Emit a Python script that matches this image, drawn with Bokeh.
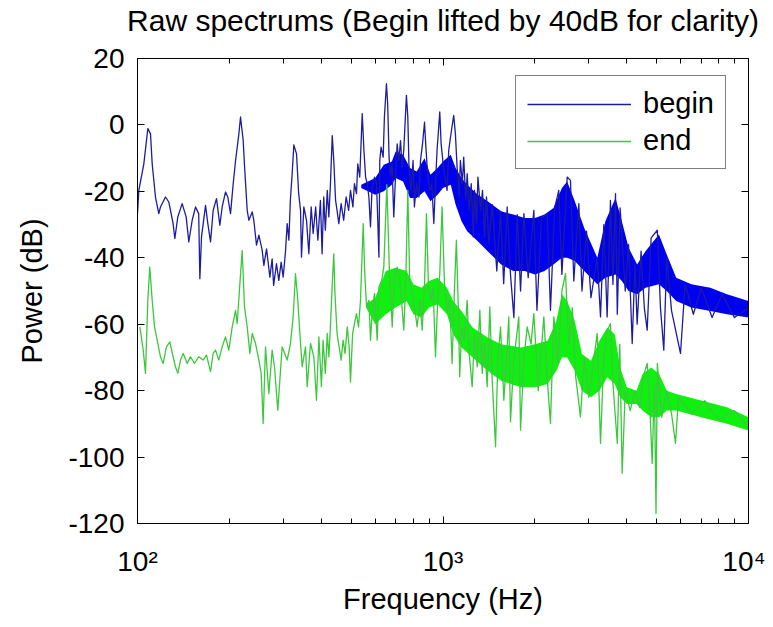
from bokeh.plotting import figure
from bokeh.models import Range1d, LogAxis, LinearAxis, FixedTicker, Legend, LegendItem
from bokeh.embed import file_html
from bokeh.resources import INLINE

# ---------------- data ----------------
begin_freq = [100, 101, 104.9, 108.1, 110.3, 111.7, 114.5, 117.4, 118.9, 123.5, 126.6, 130.8, 132.5,
              135.5, 140, 144.3, 147.2, 151, 154.9, 158.6, 160, 162, 167, 169.9, 173.4, 176.9, 181.4,
              186, 189.3, 194.1, 197.5, 201.6, 205.7, 209.4, 214.7, 217.4, 219.5, 221.8, 224, 228.6,
              231.5, 237.4, 240.3, 245.2, 249.6, 255.9, 259.2, 264.5, 271.2, 275.9, 279, 285.1, 290.1,
              295.3, 299.8, 305, 309, 313, 316.5, 320.8, 324.9, 331.5, 337, 341.7, 344.2, 350.3, 357.5,
              363.8, 370.3, 375.8, 383, 389.4, 397, 402, 407, 412, 418, 423, 428, 434, 439, 445, 450,
              456, 464, 473, 482, 491, 498, 507, 513, 521, 526, 534, 544, 551, 558, 565, 572, 579, 586,
              597, 606, 617, 621, 627, 637, 643, 653, 659, 666, 673, 681, 690, 699, 708, 717, 726, 735,
              744, 753, 759, 767, 774, 786, 798, 806, 819, 834, 844, 857, 870, 879, 892, 905, 919, 933,
              945, 956, 976, 986, 1001, 1016, 1031, 1044, 1058, 1084, 1098, 1112, 1129, 1140, 1157,
              1169, 1187, 1200, 1218, 1237, 1256, 1268, 1288, 1301, 1327, 1347, 1368, 1388, 1413, 1450,
              1500, 1543, 1580, 1622, 1663, 1706, 1750, 1794, 1840, 1900, 1983, 2030, 2100, 2193, 2248,
              2320, 2393, 2450, 2550, 2614, 2680, 2784, 2850, 2950, 3050, 3197, 3278, 3360, 3446, 3533,
              3600, 3670, 3720, 3800, 3950, 4050, 4162, 4250, 4320, 4450, 4560, 4660, 4800, 5030, 5150,
              5281, 5400, 5600, 5990, 6200, 6600, 7000, 7600, 8200, 9000, 10000]
begin_db = [-26.7, -19.7, -11.7, -1.1, -2.7, -11.7, -21.7, -26.7, -24.7, -21.7, -23.2, -29.7, -34.2,
            -27.7, -23.7, -27.7, -35.2, -28.7, -24.7, -26.7, -46.3, -33.7, -24.2, -29.7, -35.2, -25.7, -22.2,
            -30.2, -24.7, -20.2, -21.7, -26.7, -17.7, -10.7, -2.7, 2.4, -1.0, -4.7, -12.2, -25.7,
            -28.7, -26.2, -28.7, -36.2, -33.2, -37.7, -42.3, -37.3, -45.8, -40.3, -48.3, -41.8, -46.8,
            -41.3, -45.8, -38.3, -29.7, -34.7, -22.7, -14.7, -6.0, -8.7, -20.7, -25.7, -39.8, -24.7, -28.7,
            -38.8, -24.7, -32.7, -24.7, -34.7, -22.7, -38.8, -21.7, -31.7, -19.7, -27.7, -18.0, -3.2, -10.7, -22.7, -25.7,
            -29.7, -23.7, -28.7, -21.7, -25.7, -19.7, -24.7, -17.7, -20.7, -11.7, -15.7, 3.4, -7.7, -15.7, -17.7, -21.7, -30.7, -18.7,
            -15.7, -17.7, -39.8, -10.7, -6.7, -9.7, 2.4, 12.4, 6.4, -9.7, -15.7, -11.7, -27.7, -15.7, -5.7, -10.7, -4.7, -12.7,
            -7.7, 2.4, 8.9, 2.4, -12.7, -19.7, -10.7, -24.7, -17.7, -21.7, -10.7, -5.7, 0.8, -6.7, -15.7, -19.7, -17.7, -29.7,
            -17.7, -7.7, 3.9, -5.7, -11.7, -15.7, -19.7, -7.7, -3.7, 2.9, -2.7, -12.7, -21.7, -10.7, -17.7,
            -9.7, -22.7, -14.7, -25.7, -17.7, -33.7, -19.7, -29.7, -15.7, -25.7, -19.7, -33.7, -21.7, -35.7, -24.0,
            -44.0, -26.0, -47.8, -24.7, -45.0, -58.0, -27.0, -50.0, -26.7, -46.0, -25.7, -55.8, -28.0, -26.7, -55.8,
            -25.0, -19.7, -45.0, -15.7, -16.7, -47.0, -23.7, -50.0, -32.0, -52.0, -40.0, -57.8, -30.0, -57.8, -22.7,
            -48.0, -20.7, -57.0, -25.0, -50.0, -36.0, -65.8, -42.0, -60.0, -38.0, -55.0, -61.8, -34.0, -31.7, -55.0,
            -67.8, -40.0, -56.0, -68.8, -48.0, -57.0, -49.0, -58.0, -51.0, -58.0, -55.0]

begin_band_freq = [540, 600, 640, 680, 700, 740, 780, 820, 870, 910, 960, 1000, 1060, 1100, 1150, 1200,
                   1300, 1400, 1550, 1700, 1850, 2000, 2150, 2300, 2450, 2550, 2700, 2900, 3200, 3400,
                   3670, 3850, 4050, 4320, 4600, 5090, 5400, 5800, 6500, 7500, 8500, 10000]
begin_band_low = [-19, -21, -20, -18, -16, -17, -22, -22, -20, -23, -21, -19, -18, -24, -29, -32,
                  -35, -38, -42, -44, -44, -45, -44, -42, -40, -40, -41, -44, -48, -46,
                  -45, -47, -50, -51, -49, -48, -50, -53, -55, -56, -57, -58]
begin_band_high = [-18, -16, -12, -11, -8, -9, -13, -14, -10, -15, -13, -11, -9, -13, -16, -18,
                   -21, -23, -26, -27, -28, -28, -27, -25, -19, -17, -23, -31, -40, -29,
                   -22, -29, -37, -42, -38, -33, -39, -46, -48, -49, -51, -53]

end_freq = [101.8, 104.4, 106.2, 108.1, 109.7, 111.7, 113.7, 116, 118.9, 121.3, 124.4, 127.6, 130.8,
            133.1, 135.5, 138.3, 141.1, 145.4, 149.1, 153.7, 158.6, 164, 168.2, 173.4, 176.9, 180,
            184.6, 189.3, 194.1, 199, 204.2, 209.4, 212, 216.3, 220.1, 224, 228.6, 233.2, 237.4, 243.4,
            249.6, 254, 257.8, 262.4, 269.1, 275.9, 280.8, 287.9, 297.5, 309, 316.8, 323.2, 329, 334.8,
            340, 346, 354.8, 359.3, 368.4, 377.8, 385.4, 392.3, 400, 405, 412, 418, 423, 428, 434, 439,
            443, 450, 457, 464, 471, 478, 486, 493, 498, 506, 513, 521, 529, 537, 548, 554, 562, 572,
            579, 588, 597, 609, 617, 630, 640, 655, 667, 682, 693, 708, 726, 744, 755, 767, 778, 792,
            806, 823, 840, 855, 870, 883, 896, 914, 928, 945, 961, 976, 993, 1011, 1031, 1052, 1071,
            1089, 1106, 1123, 1134, 1152, 1175, 1200, 1218, 1246, 1268, 1294, 1320, 1344, 1368, 1395,
            1423, 1449, 1486, 1512, 1543, 1582, 1622, 1642, 1663, 1705, 1771, 1794, 1839, 1886, 1942,
            1983, 2050, 2138, 2200, 2248, 2305, 2380, 2450, 2518, 2580, 2650, 2720, 2818, 2900, 3000,
            3100, 3197, 3278, 3360, 3450, 3533, 3600, 3720, 3790, 3859, 3950, 4100, 4250, 4400, 4550,
            4660, 4760, 4838, 4920, 4980, 5030, 5200, 5400, 5600, 5768, 5900, 6500, 7200, 8000, 9000,
            10000]
end_db = [-60.8, -67.8, -74.8, -52.8, -42.8, -52.8, -60.8, -64.8, -69.8, -71.8, -66.8, -65.3, -69.8,
          -72.8, -74.8, -70.8, -68.8, -71.8, -69.8, -71.8, -69.8, -70.8, -69.3, -74.3, -68.8, -67.8,
          -70.8, -66.8, -63.8, -67.8, -60.8, -55.8, -59.8, -47.8, -37.8, -54.8, -60.8, -68.8, -62.8, -65.8,
          -70.8, -74.8, -89.9, -66.8, -80.9, -67.8, -72.8, -85.9, -66.8, -70.8, -65.8, -57.8, -44.8, -52.8,
          -62.8, -72.8, -66.8, -78.8, -65.8, -69.8, -82.9, -63.8, -78.8, -64.8, -74.8, -62.8, -69.8, -60.8, -47.8, -38.8,
          -50.8, -62.8, -66.8, -70.8, -64.8, -68.8, -60.8, -66.8, -77.4, -62.8, -59.8, -56.8, -60.8, -52.8, -29.7, -43.8, -54.8, -52.8,
          -64.8, -54.8, -50.8, -64.8, -48.8, -46.8, -42.8, -18.0, -42.8, -60.8, -45.8, -42.8, -48.8, -61.8, -47.8, -19.7, -46.8, -50.8,
          -54.8, -60.8, -52.8, -61.8, -47.8, -26.7, -48.8, -52.8, -48.8, -69.8, -52.8, -44.8, -24.7, -47.8, -55.8, -52.8, -71.8,
          -50.8, -34.7, -55.8, -75.8, -60.8, -64.8, -52.8, -68.8, -78.8, -62.8, -72.8, -55.8, -74.8, -65.8, -78.8,
          -54.8, -76.8, -96.9, -70.8, -60.8, -82.9, -66.8, -57.8, -89.4, -70.8, -57.8, -91.9, -70.8, -60.8, -66.0,
          -56.8, -80.0, -57.8, -78.0, -89.9, -57.8, -72.0, -50.0, -44.8, -66.0, -55.0, -76.0, -87.9, -70.0, -82.0,
          -72.0, -62.8, -95.9, -70.0, -62.0, -59.8, -78.0, -95.9, -66.0, -104.9, -80.0, -86.0, -80.0, -85.0, -75.0,
          -71.8, -86.0, -101.9, -78.0, -117.0, -71.8, -88.0, -80.0, -87.0, -95.9, -82.0, -87.0, -83.0, -89.0, -86.0,
          -91.0]

end_band_freq = [560, 600, 650, 700, 760, 800, 850, 900, 960, 1030, 1080, 1150, 1250, 1400, 1550, 1800,
                 2000, 2200, 2350, 2450, 2550, 2700, 2850, 3050, 3250, 3450, 3650, 3800, 4000, 4300,
                 4500, 4800, 5100, 5400, 5800, 7000, 8500, 10000]
end_band_low = [-55, -60, -57, -55, -53, -57, -58, -55, -54, -57, -63, -67, -70, -74, -77, -79,
                -79, -78, -74, -70, -70, -74, -80, -82, -80, -76, -78, -82, -84, -84,
                -86, -88, -88, -86, -86, -88, -90, -92]
end_band_high = [-54, -52, -44, -43, -44, -48, -49, -47, -46, -49, -53, -56, -61, -64, -66, -67,
                 -66, -65, -59, -51, -53, -59, -69, -71, -65, -61, -63, -73, -79, -80,
                 -75, -73, -75, -80, -81, -83, -85, -88]

x_major = [100, 1000, 10000]
x_minor = [200, 300, 400, 500, 600, 700, 800, 900, 2000, 3000, 4000, 5000, 6000, 7000, 8000, 9000]
x_labels = {100: "10\u00b2", 1000: "10\u00b3", 10000: "10\u2074"}
y_ticks = [-120, -100, -80, -60, -40, -20, 0, 20]
y_labels = {-120: "-120", -100: "-100", -80: "-80", -60: "-60", -40: "-40", -20: "-20", 0: "0", 20: "20"}

title_text = "Raw spectrums (Begin lifted by 40dB for clarity)"
x_title = "Frequency (Hz)"
y_title = "Power (dB)"

FONT = "Liberation Sans"
BLUE_LINE = "#1c1ca0"
BLUE_FILL = "#0000f0"
GREEN_LINE = "#3cc83c"
GREEN_FILL = "#10f010"

p = figure(width=765, height=619, x_axis_type="log",
           x_range=Range1d(100, 10000), y_range=Range1d(-120, 20),
           output_backend="svg", toolbar_location=None,
           min_border_left=137, min_border_right=17, min_border_top=58, min_border_bottom=96)
p.title.visible = False

p.xgrid.visible = False
p.ygrid.visible = False
p.outline_line_color = "black"
p.outline_line_width = 1

# data
p.varea(x=begin_band_freq, y1=begin_band_low, y2=begin_band_high, color=BLUE_FILL)
r_begin = p.line(begin_freq, begin_db, line_color=BLUE_LINE, line_width=1.3, line_join="round")
p.varea(x=end_band_freq, y1=end_band_low, y2=end_band_high, color=GREEN_FILL)
r_end = p.line(end_freq, end_db, line_color=GREEN_LINE, line_width=1.3, line_join="round")

def style_axis(ax, labels=True):
    ax.axis_line_color = "black"
    ax.major_tick_line_color = "black"
    ax.minor_tick_line_color = "black"
    ax.major_tick_in = 7
    ax.major_tick_out = 0
    ax.minor_tick_in = 5
    ax.minor_tick_out = 0
    ax.major_label_text_font = FONT
    ax.major_label_text_color = "black"
    ax.axis_label_text_font = FONT
    ax.axis_label_text_font_style = "normal"
    ax.axis_label_text_color = "black"
    ax.axis_label_text_font_size = "29px"
    if labels:
        ax.major_label_text_font_size = "28px"
    else:
        ax.major_label_text_font_size = "2px"
        ax.major_label_text_alpha = 0
        ax.major_label_standoff = 0

xa = p.xaxis[0]
xa.ticker = FixedTicker(ticks=x_major, minor_ticks=x_minor)
xa.major_label_overrides = x_labels
xa.axis_label = x_title
style_axis(xa)
xa.major_label_standoff = 22
xa.axis_label_standoff = 3

ya = p.yaxis[0]
ya.ticker = FixedTicker(ticks=y_ticks)
ya.major_label_overrides = y_labels
ya.axis_label = y_title
style_axis(ya)
ya.major_label_standoff = 13
ya.axis_label_standoff = 17

# top axis: carries the box ticks and the chart title as its label
top = LogAxis(ticker=FixedTicker(ticks=x_major, minor_ticks=x_minor))
style_axis(top, labels=False)
top.axis_label = title_text
top.axis_label_text_font_size = "30px"
top.axis_label_standoff = 22
p.add_layout(top, "above")

right = LinearAxis(ticker=FixedTicker(ticks=y_ticks))
style_axis(right, labels=False)
p.add_layout(right, "right")

legend = Legend(items=[LegendItem(label="begin", renderers=[r_begin]),
                       LegendItem(label="end", renderers=[r_end])],
                location=(378, 354))
legend.label_text_font = FONT
legend.label_text_font_size = "29px"
legend.label_text_color = "black"
legend.glyph_width = 104
legend.glyph_height = 26
legend.label_height = 26
legend.label_standoff = 12
legend.spacing = 4
legend.padding = 11
legend.margin = 0
legend.border_line_color = "black"
legend.border_line_width = 1
legend.background_fill_color = "white"
legend.background_fill_alpha = 1
p.add_layout(legend)

open("out.html", "w").write(file_html(p, INLINE))
